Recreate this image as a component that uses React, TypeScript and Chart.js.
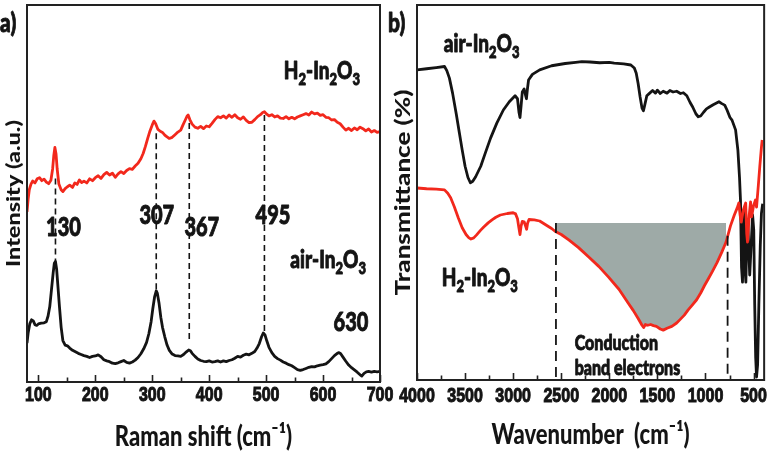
import React, { useEffect, useRef } from "react";
import { Chart, registerables } from "chart.js";

Chart.register(...registerables);

// ---------------- data : panel a (Raman) ----------------
const ramanTicks = [100, 200, 300, 400, 500, 600, 700];
const ramanMinorTicks = [150, 250, 350, 450, 550, 650];

const ramanH2X = [80,82,84,87,90,94,98,102,106,110,114,118,122,125,127,129,131,133,136,140,143,147,151,155,160,164,168,172,176,180,185,190,195,200,205,210,215,220,225,230,235,240,245,250,255,260,265,270,275,280,284,288,292,296,300,303,306,310,314,318,322,326,330,335,340,345,350,354,358,361,363,366,370,375,380,385,390,395,400,405,410,415,420,425,430,435,440,445,450,455,460,465,470,475,480,485,490,494,497,500,505,510,515,520,525,530,535,540,545,550,555,560,565,570,575,580,585,590,595,600,605,610,615,620,625,630,635,640,645,650,655,660,665,670,675,680,685,690,695,700];
const ramanH2Y = [45.1,48.5,51.0,52.5,53.3,52.8,53.9,54.2,53.4,53.8,53.0,52.6,53.5,56.5,60.0,62.2,60.5,56.5,52.5,51.0,50.5,51.3,51.8,52.2,51.6,52.8,52.4,53.6,52.9,53.3,52.8,53.9,53.4,54.2,54.7,54.0,55.0,55.6,54.9,55.4,54.3,55.2,55.8,55.3,56.1,56.6,56.4,57.3,58.0,59.2,60.6,62.5,64.6,66.6,68.2,69.2,68.5,67.0,66.5,66.2,65.5,65.0,64.6,64.9,65.6,66.3,66.8,68.2,69.5,70.5,70.8,69.6,68.4,67.6,67.3,67.8,67.2,67.9,67.7,68.6,69.6,70.4,70.1,70.6,70.0,70.8,70.2,70.9,70.1,69.7,70.3,69.4,68.8,68.9,69.6,70.4,70.9,71.5,71.7,71.2,70.6,70.9,70.3,70.6,70.0,69.9,70.4,69.8,70.2,69.8,70.3,70.6,70.9,71.2,70.8,71.6,71.1,71.3,70.7,70.9,70.2,70.1,69.5,69.6,68.9,68.5,67.6,66.8,67.3,66.7,67.4,66.9,67.6,67.2,66.6,67.1,66.3,66.7,66.2,66.4];

const ramanAirX = [80,82,85,88,91,94,97,100,105,110,114,117,120,123,126,128,130,132,134,137,140,143,147,151,155,160,165,170,175,180,185,190,195,200,205,210,215,220,225,230,235,240,245,250,255,260,265,270,275,280,285,290,294,298,301,304,307,309,312,315,318,322,326,330,335,340,345,350,355,360,364,367,370,375,380,385,390,395,400,405,410,415,420,425,430,435,440,445,450,455,460,465,470,475,480,484,488,492,495,498,501,505,510,515,520,525,530,535,540,545,550,555,560,565,570,575,580,585,590,595,600,605,610,615,620,625,628,631,635,640,645,650,655,660,665,668,672,676,680,685,690,695,700];
const ramanAirY = [10.3,13.0,15.5,16.5,16.2,15.2,15.0,15.4,15.6,15.7,16.0,17.5,20.0,24.5,29.0,31.5,32.0,30.0,26.0,20.0,14.5,11.0,9.8,9.6,9.0,8.4,8.0,7.6,7.3,7.0,6.8,6.5,6.8,6.9,7.2,6.7,5.9,5.6,5.4,5.0,4.9,5.1,5.4,5.7,5.2,5.0,5.3,5.8,6.5,7.5,8.8,10.5,12.8,16.0,19.5,22.5,24.2,23.5,20.8,17.2,14.5,12.0,9.8,8.4,7.4,7.0,6.9,6.8,7.3,8.0,8.5,8.3,7.6,6.8,6.1,5.7,5.5,5.4,5.6,5.3,5.4,5.6,5.3,5.6,5.4,5.7,5.9,6.3,6.8,6.6,7.1,7.4,7.2,7.6,8.1,9.0,10.2,12.0,13.0,12.5,11.0,9.2,7.8,6.8,6.2,5.8,5.3,5.0,4.6,4.3,3.8,3.3,3.1,3.3,3.6,3.9,4.1,4.0,4.3,4.5,4.6,4.8,5.4,6.2,7.0,7.6,7.8,7.5,6.6,5.5,4.5,3.8,3.2,2.6,1.9,1.6,2.3,2.7,2.8,2.6,2.8,2.7,2.8];

const ramanPeakX = [130, 307, 365, 497];
const ramanPeakTop = [54.0, 66.0, 68.7, 70.8];
const ramanPeakBottom = [32.0, 24.4, 10.6, 13.3];
const ramanPeakLabels = ["130", "307", "367", "495", "630"];

// ---------------- data : panel b (FTIR) ----------------
const ftirTicks = [4000, 3500, 3000, 2500, 2000, 1500, 1000, 500];
const ftirMinorTicks = [3750, 3250, 2750, 2250, 1750, 1250, 750];

const ftirAirX = [4000,3900,3800,3714,3690,3663,3630,3592,3560,3531,3500,3470,3445,3420,3390,3337,3290,3235,3170,3102,3040,2980,2955,2940,2929,2918,2905,2886,2870,2862,2852,2840,2800,2724,2600,2459,2350,2286,2200,2100,2000,1949,1850,1776,1740,1720,1700,1680,1660,1645,1630,1610,1580,1550,1520,1500,1470,1440,1400,1370,1337,1300,1260,1230,1194,1160,1133,1100,1075,1050,1020,990,959,920,890,860,830,800,776,745,724,687,663,646,636,625,615,605,598,590,580,570,560,550,540,525,510,498,488,478,469,458,445,430,418,405];
const ftirAirY = [82.7,83.0,83.3,83.6,82.5,80.5,76.5,71.0,66.0,61.5,57.0,54.0,52.6,53.0,54.2,57.0,60.5,64.5,68.5,72.0,74.2,75.8,75.0,71.5,70.0,73.0,76.8,77.6,75.8,75.0,77.5,80.0,81.5,82.7,83.8,84.4,84.7,84.9,84.8,84.6,84.7,84.5,84.3,84.0,83.2,81.8,79.0,75.5,72.5,71.8,73.5,75.8,76.5,77.2,76.5,77.3,76.4,77.0,76.5,77.2,76.8,77.0,76.4,76.6,75.8,74.0,72.8,71.0,70.2,70.4,71.4,72.3,72.8,73.4,73.8,74.2,73.7,73.3,72.0,70.0,69.3,66.7,61.3,54.0,48.0,30.0,26.1,40.0,45.0,30.0,26.1,38.0,42.0,35.0,28.0,36.0,44.0,40.0,20.0,6.0,0.8,4.0,20.0,36.0,44.5,47.0];

const ftirH2X = [4000,3900,3800,3714,3680,3650,3612,3570,3530,3490,3460,3439,3410,3380,3340,3306,3260,3220,3180,3133,3060,3000,2975,2955,2940,2929,2918,2905,2886,2870,2860,2850,2835,2780,2724,2650,2600,2561,2500,2418,2320,2214,2110,2010,1900,1806,1750,1700,1660,1643,1625,1600,1570,1541,1510,1470,1439,1400,1350,1300,1265,1220,1180,1140,1092,1050,1010,970,929,880,830,786,740,700,670,653,640,628,605,582,571,563,545,531,520,500,480,469,450,435,418,410];
const ftirH2Y = [51.2,51.0,50.9,50.7,49.8,48.6,46.2,43.2,40.6,38.8,37.9,37.6,37.9,38.7,39.9,40.8,41.9,42.7,43.4,44.0,44.4,44.6,44.3,43.0,40.5,38.8,41.0,42.3,42.2,41.0,40.2,41.8,42.8,42.7,42.4,41.2,40.4,39.6,38.8,37.3,35.3,32.8,30.3,27.5,24.2,20.6,18.5,16.4,14.6,14.0,14.8,14.6,14.8,14.5,14.3,13.6,13.3,13.8,14.3,15.2,16.1,17.3,18.7,19.9,21.4,23.2,25.2,27.0,28.9,31.3,34.1,36.8,41.1,44.0,45.9,47.2,44.0,42.1,45.5,47.2,39.0,36.8,44.0,47.5,43.5,46.5,48.0,46.1,52.0,57.0,62.1,64.0];

const bandEdgeX = [2555, 770];
const bandEdgeTop = [41.9, 38.5];
const bandTop = 41.9;
const bandRange = [780, 2565];

// ---------------- styles ----------------
const RED = "#f2281c";
const INK = "#141414";
const AXIS = "#222222";
const GREY = "#9eaaa7";
const FONT = "Lato, 'Open Sans', 'DejaVu Sans', sans-serif";
const TICK_FONT = "'Liberation Sans', Arial, sans-serif";
const WEIGHT = "900";
const STRETCH = 1.3;

type Seg = [string, number]; // text, 0 normal / 1 subscript
type Note = { segs: Seg[]; x: number; y: number; size: number; align: "center" | "left" };

const pts = (xs: number[], ys: number[]) => {
  const n = Math.min(xs.length, ys.length);
  const out: { x: number; y: number }[] = [];
  for (let i = 0; i < n; i++) out.push({ x: xs[i], y: ys[i] });
  return out;
};

function drawRich(ctx: CanvasRenderingContext2D, segs: Seg[], x: number, y: number, size: number, align: "center" | "left") {
  ctx.save();
  ctx.translate(x, y);
  ctx.scale(1, STRETCH);
  const big = `${WEIGHT} ${size}px ${FONT}`;
  const small = `${WEIGHT} ${Math.round(size * 0.66)}px ${FONT}`;
  let total = 0;
  const ws = segs.map(([t, m]) => {
    ctx.font = m ? small : big;
    const w = ctx.measureText(t).width;
    total += w;
    return w;
  });
  let cx = align === "center" ? -total / 2 : 0;
  ctx.fillStyle = INK;
  ctx.strokeStyle = INK;
  ctx.lineWidth = 0.7;
  ctx.lineJoin = "round";
  ctx.textBaseline = "alphabetic";
  ctx.textAlign = "left";
  const base = size * 0.36;
  segs.forEach(([t, m], i) => {
    ctx.font = m ? small : big;
    const yy = base + (m === 1 ? size * 0.24 : 0);
    ctx.fillText(t, cx, yy);
    ctx.strokeText(t, cx, yy);
    cx += ws[i];
  });
  ctx.restore();
}

function patchScale(scale: any, labelCenter: () => number, titleCenter: () => number) {
  if (scale.$stretched) return;
  scale.$stretched = true;
  const dl = scale.drawLabels;
  const dt = scale.drawTitle;
  scale.drawLabels = function (area: any) {
    const ctx = this.ctx;
    const cy = labelCenter.call(this);
    ctx.save();
    ctx.translate(0, cy);
    ctx.scale(1, STRETCH);
    ctx.translate(0, -cy);
    dl.call(this, area);
    ctx.restore();
  };
  scale.drawTitle = function () {
    const ctx = this.ctx;
    const cy = titleCenter.call(this);
    ctx.save();
    ctx.translate(0, cy);
    ctx.scale(1, STRETCH);
    ctx.translate(0, -cy);
    dt.call(this);
    ctx.restore();
  };
}

function framePlugin(major: number[], minor: number[]) {
  return {
    id: "frame",
    afterDatasetsDraw(chart: any) {
      const { ctx, chartArea: a } = chart;
      const xs = chart.scales.x;
      ctx.save();
      ctx.strokeStyle = AXIS;
      ctx.lineWidth = 1.6;
      ctx.beginPath();
      const tick = (v: number, len: number) => {
        const px = Math.round(xs.getPixelForValue(v)) + 0.5;
        ctx.moveTo(px, a.bottom);
        ctx.lineTo(px, a.bottom - len);
      };
      major.forEach((v) => tick(v, 7));
      minor.forEach((v) => tick(v, 4.5));
      ctx.stroke();
      ctx.lineWidth = 2;
      ctx.strokeRect(a.left, a.top, a.right - a.left, a.bottom - a.top);
      ctx.restore();
    },
  };
}

function notesPlugin(notes: Note[], corner: string, cornerX: number) {
  return {
    id: "notes",
    afterDraw(chart: any) {
      const { ctx } = chart;
      const xs = chart.scales.x;
      const ys = chart.scales.y;
      notes.forEach((n) => drawRich(ctx, n.segs, xs.getPixelForValue(n.x), ys.getPixelForValue(n.y), n.size, n.align));
      drawRich(ctx, [[corner, 0]], cornerX, 22, 21, "left");
    },
  };
}

const H2 = (): Seg[] => [["H", 0], ["2", 1], ["-In", 0], ["2", 1], ["O", 0], ["3", 1]];
const AIR = (): Seg[] => [["air-In", 0], ["2", 1], ["O", 0], ["3", 1]];

function lineDs(data: any[], color: string, width: number, order: number, extra: any = {}) {
  return {
    data,
    borderColor: color,
    backgroundColor: color,
    borderWidth: width,
    pointRadius: 0,
    fill: false,
    tension: 0,
    borderJoinStyle: "round",
    order,
    ...extra,
  };
}

const tickText = (v: any) => String(v);

function makeRaman(canvas: HTMLCanvasElement) {
  const tickPad = 4;
  const tickSize = 16;
  const titleSize = 22;
  const titlePadBottom = 5;
  const ySize = 18;
  const datasets: any[] = [
    lineDs(pts(ramanAirX, ramanAirY), INK, 2.8, 3),
    lineDs(pts(ramanH2X, ramanH2Y), RED, 2.8, 2),
  ];
  ramanPeakX.forEach((x, i) => {
    datasets.push(
      lineDs(
        [
          { x, y: ramanPeakTop[i] },
          { x, y: ramanPeakBottom[i] },
        ],
        INK,
        1.6,
        1,
        { borderDash: [6, 4] }
      )
    );
  });
  const notes: Note[] = [
    { segs: [[ramanPeakLabels[0], 0]], x: 144, y: 41.1, size: 20, align: "center" },
    { segs: [[ramanPeakLabels[1], 0]], x: 308, y: 44.3, size: 20, align: "center" },
    { segs: [[ramanPeakLabels[2], 0]], x: 387, y: 41.1, size: 20, align: "center" },
    { segs: [[ramanPeakLabels[3], 0]], x: 512, y: 44.3, size: 20, align: "center" },
    { segs: [[ramanPeakLabels[4], 0]], x: 649, y: 15.9, size: 20, align: "center" },
    { segs: H2(), x: 598, y: 82.6, size: 19, align: "center" },
    { segs: AIR(), x: 609, y: 32.7, size: 19, align: "center" },
  ];
  return new Chart(canvas, {
    type: "line",
    data: { datasets },
    options: {
      responsive: false,
      animation: false,
      devicePixelRatio: 1,
      layout: { padding: { left: 0, top: 5, right: 20, bottom: 0 } },
      plugins: { legend: { display: false }, tooltip: { enabled: false } },
      scales: {
        x: {
          type: "linear",
          min: 80,
          max: 700,
          grid: { display: false, drawTicks: false },
          border: { display: false },
          ticks: {
            autoSkip: false,
            maxRotation: 0,
            padding: tickPad,
            color: INK,
            textStrokeColor: INK,
            textStrokeWidth: 0.8,
            callback: tickText,
            font: { family: TICK_FONT, size: tickSize, weight: "bold" },
          },
          title: {
            display: true,
            text: "Raman shift (cm⁻¹)",
            color: INK,
            font: { family: FONT, size: titleSize, weight: WEIGHT },
            padding: { top: 0, bottom: titlePadBottom },
          },
          afterBuildTicks: (s: any) => {
            s.ticks = ramanTicks.map((v) => ({ value: v }));
          },
          afterFit: (s: any) => {
            s.height = 73;
            patchScale(
              s,
              function (this: any) {
                return this.top + tickPad + (tickSize * 1.2) / 2;
              },
              function (this: any) {
                return this.bottom - (titleSize * 1.2) / 2 - titlePadBottom;
              }
            );
          },
        },
        y: {
          min: 0,
          max: 100,
          grid: { display: false, drawTicks: false },
          border: { display: false },
          ticks: { display: false },
          title: {
            display: true,
            text: "Intensity (a.u.)",
            color: INK,
            font: { family: FONT, size: ySize, weight: WEIGHT },
            padding: { top: 3, bottom: 0 },
          },
          afterFit: (s: any) => {
            s.width = 27;
            patchScale(
              s,
              function (this: any) {
                return (this.top + this.bottom) / 2;
              },
              function (this: any) {
                return (this.top + this.bottom) / 2;
              }
            );
          },
        },
      },
    },
    plugins: [framePlugin(ramanTicks, ramanMinorTicks), notesPlugin(notes, "a)", 0)],
  } as any);
}

function makeFtir(canvas: HTMLCanvasElement) {
  const tickPad = 7;
  const tickSize = 16;
  const titleSize = 22;
  const titlePadBottom = 7;
  const ySize = 20;
  const band = pts(ftirH2X, ftirH2Y).filter((p) => p.x >= bandRange[0] && p.x <= bandRange[1]);
  const datasets: any[] = [
    lineDs(band, GREY, 0, 10, { fill: { value: bandTop }, backgroundColor: GREY, borderColor: "rgba(0,0,0,0)" }),
    lineDs(pts(ftirAirX, ftirAirY), INK, 2.8, 4),
    lineDs(pts(ftirH2X, ftirH2Y), RED, 2.8, 3),
  ];
  bandEdgeX.forEach((x, i) => {
    datasets.push(
      lineDs(
        [
          { x, y: bandEdgeTop[i] },
          { x, y: 0 },
        ],
        INK,
        1.8,
        1,
        { borderDash: [10, 6] }
      )
    );
  });
  const notes: Note[] = [
    { segs: AIR(), x: 3327, y: 89.8, size: 19, align: "center" },
    { segs: H2(), x: 3347, y: 27.5, size: 19, align: "center" },
    { segs: [["Conduction", 0]], x: 2360, y: 10.1, size: 16, align: "left" },
    { segs: [["band electrons", 0]], x: 2360, y: 3.2, size: 16, align: "left" },
  ];
  return new Chart(canvas, {
    type: "line",
    data: { datasets },
    options: {
      responsive: false,
      animation: false,
      devicePixelRatio: 1,
      layout: { padding: { left: 0, top: 5, right: 3, bottom: 0 } },
      plugins: { legend: { display: false }, tooltip: { enabled: false } },
      scales: {
        x: {
          type: "linear",
          reverse: true,
          min: 390,
          max: 4000,
          grid: { display: false, drawTicks: false },
          border: { display: false },
          ticks: {
            autoSkip: false,
            maxRotation: 0,
            padding: tickPad,
            color: INK,
            textStrokeColor: INK,
            textStrokeWidth: 0.8,
            callback: tickText,
            font: { family: TICK_FONT, size: tickSize, weight: "bold" },
          },
          title: {
            display: true,
            text: "Wavenumber  (cm⁻¹)",
            color: INK,
            font: { family: FONT, size: titleSize, weight: WEIGHT },
            padding: { top: 0, bottom: titlePadBottom },
          },
          afterBuildTicks: (s: any) => {
            s.ticks = ftirTicks.map((v) => ({ value: v }));
          },
          afterFit: (s: any) => {
            s.height = 75;
            patchScale(
              s,
              function (this: any) {
                return this.top + tickPad + (tickSize * 1.2) / 2;
              },
              function (this: any) {
                return this.bottom - (titleSize * 1.2) / 2 - titlePadBottom;
              }
            );
          },
        },
        y: {
          min: 0,
          max: 100,
          grid: { display: false, drawTicks: false },
          border: { display: false },
          ticks: { display: false },
          title: {
            display: true,
            text: "Transmittance (%)",
            color: INK,
            font: { family: FONT, size: ySize, weight: WEIGHT },
            padding: { top: 6, bottom: 0 },
          },
          afterFit: (s: any) => {
            s.width = 31;
            patchScale(
              s,
              function (this: any) {
                return (this.top + this.bottom) / 2;
              },
              function (this: any) {
                return (this.top + this.bottom) / 2;
              }
            );
          },
        },
      },
    },
    plugins: [framePlugin(ftirTicks, ftirMinorTicks), notesPlugin(notes, "b)", 2)],
  } as any);
}

export default function App() {
  const aRef = useRef<HTMLCanvasElement | null>(null);
  const bRef = useRef<HTMLCanvasElement | null>(null);
  useEffect(() => {
    const ca = makeRaman(aRef.current as HTMLCanvasElement);
    const cb = makeFtir(bRef.current as HTMLCanvasElement);
    return () => {
      ca.destroy();
      cb.destroy();
    };
  }, []);
  return (
    <div style={{ position: "absolute", left: 0, top: 0, width: 774, height: 455, background: "#ffffff", overflow: "hidden" }}>
      <canvas ref={aRef} width={400} height={455} style={{ position: "absolute", left: 0, top: 0, width: 400, height: 455 }} />
      <canvas ref={bRef} width={388} height={455} style={{ position: "absolute", left: 386, top: 0, width: 388, height: 455 }} />
    </div>
  );
}
